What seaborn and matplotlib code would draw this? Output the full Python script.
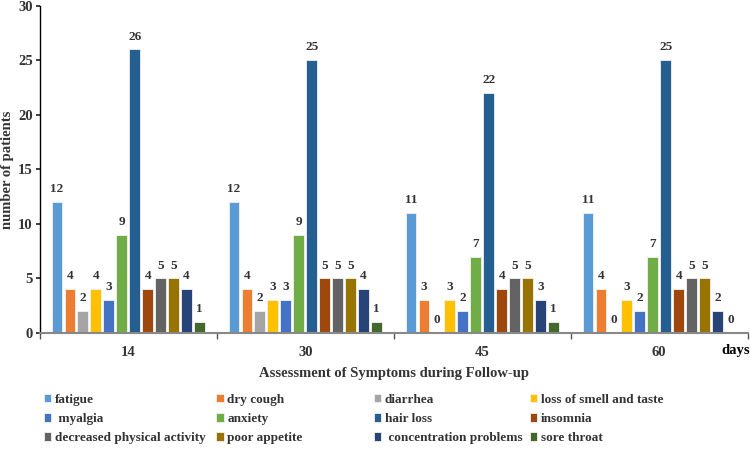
import numpy as np
import pandas as pd
import seaborn as sns
import matplotlib.pyplot as plt
from matplotlib.ticker import FixedLocator

# follow-up days and symptom counts
days = ["14", "30", "45", "60"]
symptoms = ["fatigue", "dry cough", "diarrhea", "loss of smell and taste",
            " myalgia", "anxiety", "hair loss", "insomnia",
            "decreased physical activity", "poor appetite",
            " concentration problems", "sore throat"]
day14 = [12, 4, 2, 4, 3, 9, 26, 4, 5, 5, 4, 1]
day30 = [12, 4, 2, 3, 3, 9, 25, 5, 5, 5, 4, 1]
day45 = [11, 3, 0, 3, 2, 7, 22, 4, 5, 5, 3, 1]
day60 = [11, 4, 0, 3, 2, 7, 25, 4, 5, 5, 2, 0]
colors = ["#5B9BD5", "#ED7D31", "#A5A5A5", "#FFC000", "#4472C4", "#70AD47",
          "#255E91", "#9E480E", "#636363", "#997300", "#264478", "#43682B"]

rows = []
for d, vals in zip(days, [day14, day30, day45, day60]):
    for s, v in zip(symptoms, vals):
        rows.append({"day": d, "symptom": s, "count": v})
df = pd.DataFrame(rows)

sns.set_theme(style="white")
plt.rcParams["font.family"] = ["Liberation Serif", "DejaVu Serif"]
plt.rcParams["font.weight"] = "bold"

fig = plt.figure(figsize=(7.5, 4.5), dpi=100)
ax = fig.add_axes([0.053, 0.26, 0.944, 0.727])

sns.barplot(data=df, x="day", y="count", hue="symptom", hue_order=symptoms,
            order=days, palette=colors, saturation=1, width=0.88, gap=0.18,
            edgecolor="#f2f2f2", linewidth=0.6, ax=ax)

for cont in ax.containers:
    ax.bar_label(cont, padding=5, fontsize=9.5, fontweight="bold", color="#333333")

ax.set_ylim(0, 30)
ax.set_xlim(-0.5, 3.5)
ax.set_yticks(range(0, 31, 5))
ax.tick_params(axis="y", labelsize=10.5, length=3, direction="out", left=True, pad=2)
ax.tick_params(axis="x", which="major", length=0, labelsize=10.5, pad=9)
ax.xaxis.set_minor_locator(FixedLocator(np.arange(-0.5, 4.0, 1.0)))
ax.tick_params(axis="x", which="minor", length=4, bottom=True, color="#555555")
for t in ax.get_xticklabels() + ax.get_yticklabels():
    t.set_fontweight("bold")
    t.set_color("#333333")

sns.despine(ax=ax, top=True, right=True)
ax.spines["left"].set_color("black")
ax.spines["left"].set_linewidth(1.0)
ax.spines["bottom"].set_color("#888888")
ax.spines["bottom"].set_linewidth(1.5)

ax.set_ylabel("number of patients", fontsize=10.5, fontweight="bold", color="#333333")
ax.yaxis.set_label_coords(-0.037, 0.5)
ax.set_xlabel("Assessment of Symptoms during Follow-up", fontsize=10.5,
              fontweight="bold", color="#333333", labelpad=6)
ax.text(0.983, -0.053, "days", transform=ax.transAxes, fontsize=10.5,
        fontweight="bold", ha="center", va="center", color="black")

handles, labels = ax.get_legend_handles_labels()
ax.get_legend().remove()

# excel style legend: 4 fixed-width columns, filled row by row
col_x = [0.058, 0.288, 0.498, 0.706]
for c in range(4):
    idx = [c, c + 4, c + 8]
    fig.legend([handles[i] for i in idx], [labels[i] for i in idx],
               loc="upper left", bbox_to_anchor=(col_x[c], 0.125),
               frameon=False, handlelength=0.6, handleheight=0.6,
               handletextpad=0.25, labelspacing=0.55, borderaxespad=0,
               borderpad=0,
               prop={"family": "Liberation Serif", "weight": "bold", "size": 9.5},
               labelcolor="#333333")

plt.savefig("out.png", dpi=100)
plt.close()
